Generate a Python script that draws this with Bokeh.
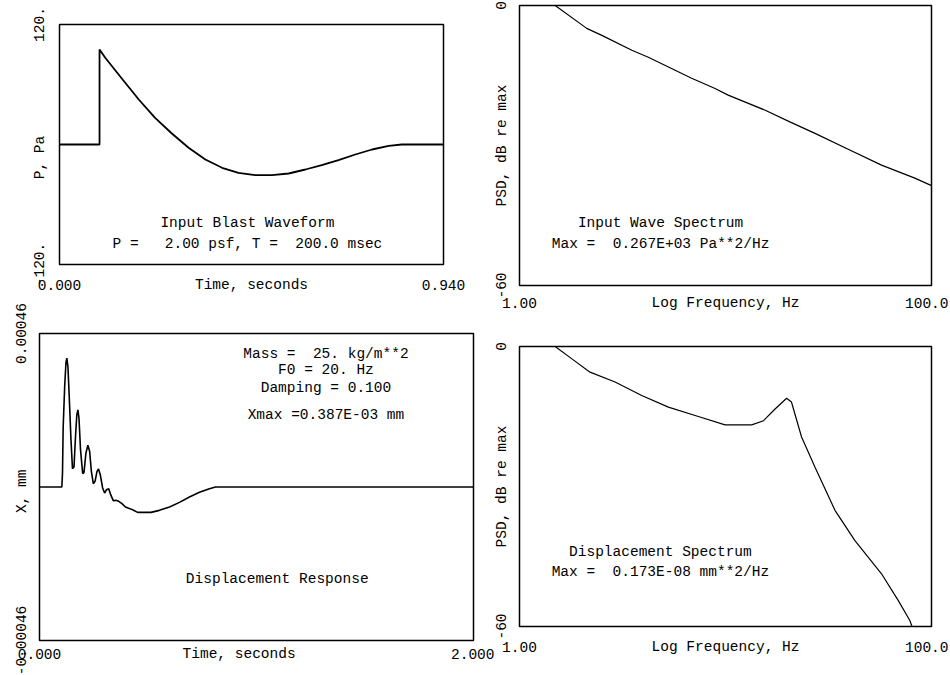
from bokeh.plotting import figure
from bokeh.models import FixedTicker, Label, Range1d
from bokeh.layouts import row, column
from bokeh.embed import file_html
from bokeh.resources import INLINE

# ---------------- data ----------------
# Input blast waveform (time s, pressure Pa)
blast_t = [0.0, 0.098, 0.098, 0.112, 0.153, 0.194, 0.234, 0.275, 0.316, 0.357,
           0.398, 0.438, 0.479, 0.520, 0.561, 0.602, 0.642, 0.683, 0.724, 0.765,
           0.806, 0.838, 0.940]
blast_p = [0.0, 0.0, 95.0, 86.7, 65.7, 45.0, 26.7, 11.0, -3.3, -15.0,
           -23.3, -28.3, -30.7, -30.7, -29.0, -25.0, -20.7, -15.7, -10.0, -5.0,
           -1.3, 0.0, 0.0]

# Input wave spectrum (Hz, dB re max)
spec_in_f = [1.00, 1.49, 2.12, 2.51, 3.51, 4.22, 6.85, 8.90, 10.3, 15.5,
             20.9, 27.2, 39.4, 57.2, 83.0, 100.0]
spec_in_db = [0.0, 0.0, -4.9, -6.4, -9.6, -11.1, -15.6, -17.8, -19.2, -22.4,
              -25.1, -27.4, -30.8, -34.2, -37.0, -38.6]

# Displacement response (time s, displacement mm)
resp_t = [0.0, 0.103, 0.106, 0.109, 0.116, 0.122, 0.126, 0.131, 0.137, 0.145,
          0.152, 0.159, 0.166, 0.172, 0.177, 0.182, 0.189, 0.199, 0.205, 0.214,
          0.223, 0.231, 0.239, 0.248, 0.256, 0.265, 0.272, 0.280, 0.291, 0.300,
          0.309, 0.319, 0.328, 0.340, 0.352, 0.365, 0.380, 0.396, 0.411, 0.429,
          0.452, 0.476, 0.514, 0.552, 0.599, 0.645, 0.691, 0.737, 0.783, 0.811,
          2.000]
resp_x = [0.0, 0.0, 0.42e-4, 1.77e-4, 3.01e-4, 3.73e-4, 3.86e-4, 3.61e-4, 2.71e-4, 1.42e-4,
          0.55e-4, 0.60e-4, 1.52e-4, 2.16e-4, 2.31e-4, 2.06e-4, 1.12e-4, 0.40e-4, 0.44e-4, 1.02e-4,
          1.25e-4, 1.07e-4, 0.47e-4, 0.10e-4, 0.17e-4, 0.47e-4, 0.54e-4, 0.37e-4, -0.03e-4, -0.18e-4,
          -0.08e-4, -0.05e-4, -0.23e-4, -0.41e-4, -0.40e-4, -0.43e-4, -0.50e-4, -0.60e-4, -0.64e-4, -0.68e-4,
          -0.76e-4, -0.76e-4, -0.76e-4, -0.70e-4, -0.60e-4, -0.46e-4, -0.30e-4, -0.16e-4, -0.05e-4, 0.0,
          0.0]

# Displacement spectrum (Hz, dB re max)
spec_x_f = [1.00, 1.49, 1.79, 2.20, 2.91, 3.92, 5.28, 7.38, 9.95, 13.4,
            15.3, 17.4, 19.8, 20.9, 23.4, 27.2, 34.0, 42.5, 57.2, 68.9,
            78.5, 80.4]
spec_x_db = [0.0, 0.0, -2.6, -5.5, -7.6, -10.5, -13.0, -15.0, -16.8, -16.8,
             -15.9, -13.4, -11.1, -11.9, -19.4, -25.9, -35.1, -41.6, -48.7, -54.4,
             -58.7, -60.0]

# tick labels
blast_xticks = {0.0: "0.000", 0.94: "0.940"}
blast_yticks = {-120: "-120.", 120: "120."}
spec_xticks = {1: "1.00", 100: "100.0"}
spec_yticks = {-60: "-60", 0: "0"}
resp_xticks = {0.0: "0.000", 2.0: "2.000"}
resp_yticks = {-0.00046: "-0.00046", 0.00046: "0.00046"}

FONT = "Liberation Mono"
FS = "14.5px"
NB = "\u00a0"


def make_fig(w, h, bl, br, bt, bb, xr, yr, xticks, yticks, xlabel, ylabel,
             xstand, ystand, log=False, transparent=False):
    p = figure(width=w, height=h, x_range=Range1d(*xr), y_range=Range1d(*yr),
               x_axis_type="log" if log else "linear",
               output_backend="svg", toolbar_location=None,
               min_border_left=bl, min_border_right=br,
               min_border_top=bt, min_border_bottom=bb)
    p.frame_align = False
    p.grid.visible = False
    p.outline_line_color = "black"
    p.outline_line_width = 1.5
    p.background_fill_color = "white"
    p.border_fill_color = None if transparent else "white"
    for ax in (p.xaxis[0], p.yaxis[0]):
        ax.axis_line_color = None
        ax.major_tick_line_color = None
        ax.minor_tick_line_color = None
        ax.major_tick_out = 0
        ax.major_tick_in = 0
        ax.minor_tick_out = 0
        ax.minor_tick_in = 0
        ax.major_label_text_font = FONT
        ax.major_label_text_font_size = FS
        ax.major_label_text_color = "black"
        ax.axis_label_text_font = FONT
        ax.axis_label_text_font_size = FS
        ax.axis_label_text_font_style = "normal"
        ax.axis_label_text_color = "black"
    p.xaxis.ticker = FixedTicker(ticks=list(xticks.keys()))
    p.xaxis.major_label_overrides = xticks
    p.yaxis.ticker = FixedTicker(ticks=list(yticks.keys()))
    p.yaxis.major_label_overrides = yticks
    p.yaxis.major_label_orientation = "vertical"
    p.xaxis.axis_label = xlabel
    p.yaxis.axis_label = ylabel
    p.xaxis.major_label_standoff = xstand
    p.xaxis.axis_label_standoff = -16
    p.yaxis.major_label_standoff = ystand
    p.yaxis.axis_label_standoff = -17
    return p


def add_text(p, x, y, txt):
    p.add_layout(Label(x=x, y=y, text=txt, text_font=FONT, text_font_size=FS,
                       text_align="center", text_baseline="middle", text_color="black"))


# top-left: blast waveform
p1 = make_fig(494, 298, 59, 51, 24, 34, (0, 0.94), (-120, 120),
              blast_xticks, blast_yticks, "Time, seconds", "P, Pa" + NB * 3, 15, 16)
p1.line(blast_t, blast_p, line_color="black", line_width=1.8)
add_text(p1, 0.46, -78, "Input Blast Waveform")
add_text(p1, 0.46, -99, "P =" + NB * 3 + "2.00 psf, T =" + NB * 2 + "200.0 msec")

# top-right: input spectrum
p2 = make_fig(462, 320, 33, 17, 5, 35, (1, 100), (-60, 0),
              spec_xticks, spec_yticks, "Log Frequency, Hz", "PSD, dB re max", 12, 14,
              log=True, transparent=True)
p2.line(spec_in_f, spec_in_db, line_color="black", line_width=1.2)
add_text(p2, 4.84, -46.6, "Input Wave Spectrum")
add_text(p2, 4.84, -51.1, "Max =" + NB * 2 + "0.267E+03 Pa**2/Hz")

# bottom-left: displacement response
p3 = make_fig(494, 377, 39, 21, 35, 35, (0, 2.0), (-0.00046, 0.00046),
              resp_xticks, resp_yticks, "Time, seconds" + NB * 4, "X, mm" + NB, 8, 14)
p3.line(resp_t, resp_x, line_color="black", line_width=1.6)
add_text(p3, 1.32, 3.99e-4, "Mass =" + NB * 2 + "25. kg/m**2")
add_text(p3, 1.32, 3.51e-4, "F0 = 20. Hz")
add_text(p3, 1.32, 2.97e-4, "Damping = 0.100")
add_text(p3, 1.32, 2.16e-4, "Xmax =0.387E-03 mm")
add_text(p3, 1.0955, -2.75e-4, "Displacement Response")

# bottom-right: displacement spectrum
p4 = make_fig(462, 355, 33, 17, 26, 49, (1, 100), (-60, 0),
              spec_xticks, spec_yticks, "Log Frequency, Hz", "PSD, dB re max", 15, 14,
              log=True, transparent=True)
p4.line(spec_x_f, spec_x_db, line_color="black", line_width=1.2)
add_text(p4, 4.83, -44.1, "Displacement Spectrum")
add_text(p4, 4.83, -48.4, "Max =" + NB * 2 + "0.173E-08 mm**2/Hz")

layout = row(column(p1, p3, spacing=0),
             column(p2, p4, spacing=0, margin=(0, 0, 0, -8)),
             spacing=0)

open("out.html", "w").write(file_html(layout, INLINE))
